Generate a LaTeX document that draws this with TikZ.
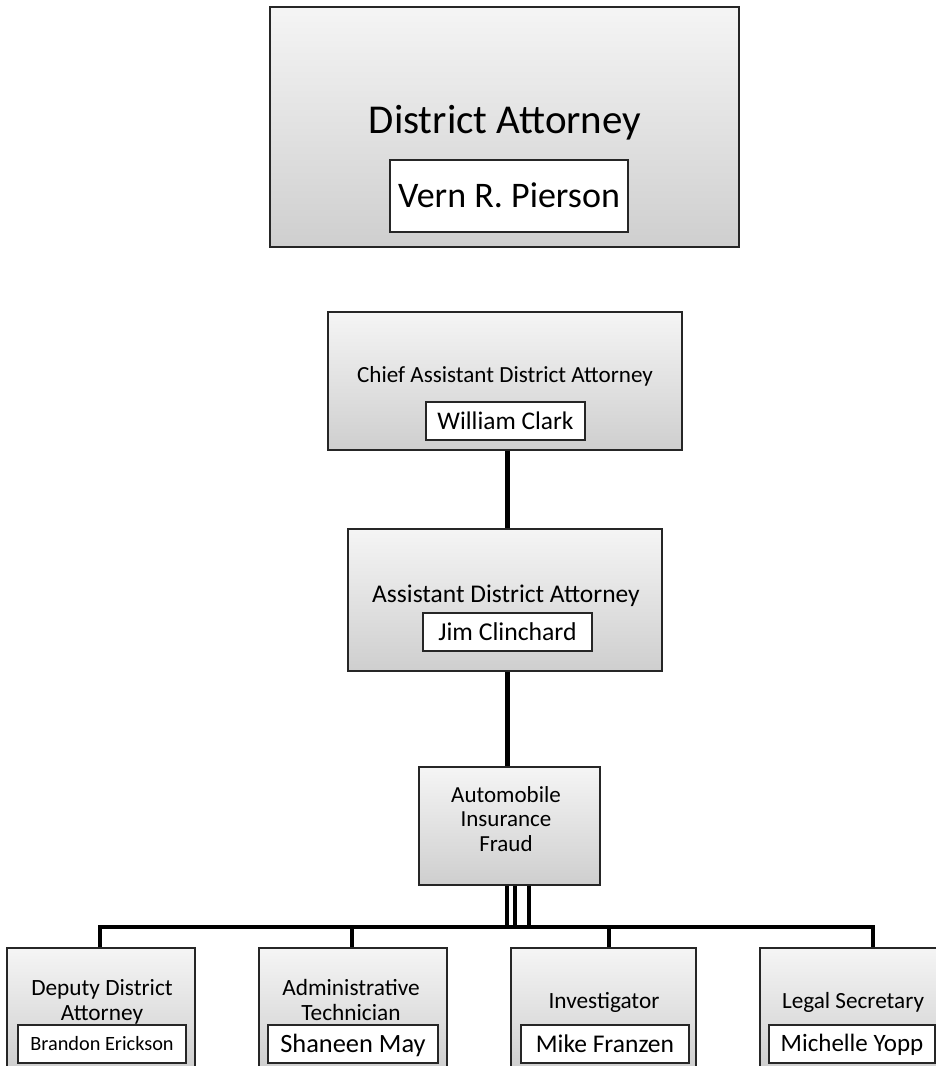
\documentclass[tikz,border=0pt]{standalone}
\usepackage{fontspec}
\setmainfont{Carlito}
\usetikzlibrary{positioning}
\begin{document}
\begin{tikzpicture}[x=1pt,y=-1pt,
  office/.style={draw=black!85,line width=1.6pt,top color=gray!8,bottom color=gray!38,inner sep=0pt},
  person/.style={draw=black!85,line width=1.3pt,fill=white,inner sep=0pt,minimum height=38pt,text depth=0pt},
  role/.style={anchor=base,align=center,inner sep=0pt},
  link/.style={line width=4.5pt,line join=miter}]
\path[use as bounding box,clip] (0,0) rectangle (936,1066);
\node[office,minimum width=469pt,minimum height=240pt] (da) at (504.5,127) {};
\node[role,font=\fontsize{41}{44}\selectfont] (daT) at (505,133) {District Attorney};
\node[person,minimum width=238pt,minimum height=72pt,text height=22.8pt,font=\fontsize{36}{40}\selectfont] (vern) at (509,196) {Vern R. Pierson};
\node[office,minimum width=354pt,minimum height=138pt] (chief) at (505,381) {};
\node[role,font=\fontsize{23.1}{26}\selectfont] (chiefT) at (505,382) {Chief Assistant District Attorney};
\node[person,minimum width=159pt,text height=16pt,font=\fontsize{25.4}{28}\selectfont] (clark) at (505.5,421) {William Clark};
\node[office,minimum width=314pt,minimum height=142pt] (ada) at (505,600) {};
\node[role,font=\fontsize{25.5}{28}\selectfont] (adaT) at (506,602) {Assistant District Attorney};
\node[person,minimum width=169pt,text height=16.2pt,font=\fontsize{25.7}{28}\selectfont] (clinch) at (507.5,632) {Jim Clinchard};
\node[office,minimum width=181pt,minimum height=118pt] (fraud) at (509.5,826) {};
\node[role,font=\fontsize{23}{24.5}\selectfont] (fraudT) at (506,851) {Automobile\\Insurance\\Fraud};
\foreach \n/\x/\w in {dda/101/188,tech/353/188,inv/603.5/185,sec/853/186}
  \node[office,minimum width=\w pt,minimum height=122pt] (\n) at (\x,1009) {};
\node[role,font=\fontsize{23.3}{25}\selectfont] (ddaT) at (102,1020) {Deputy District\\Attorney};
\node[role,font=\fontsize{23.3}{25}\selectfont] (techT) at (351,1020) {Administrative\\Technician};
\node[role,font=\fontsize{23.3}{25}\selectfont] (invT) at (604,1008) {Investigator};
\node[role,font=\fontsize{23.2}{25}\selectfont] (secT) at (853,1008) {Legal Secretary};
\node[person,minimum width=168pt,text height=12.8pt,font=\fontsize{20.3}{22}\selectfont] (brandon) at (102,1044) {Brandon Erickson};
\node[person,minimum width=170pt,text height=16.7pt,font=\fontsize{26.4}{28}\selectfont] (shaneen) at (353,1044) {Shaneen May};
\node[person,minimum width=168pt,text height=16.1pt,font=\fontsize{25.5}{28}\selectfont] (mike) at (605,1044) {Mike Franzen};
\node[person,minimum width=166pt,text height=15.8pt,font=\fontsize{25}{28}\selectfont] (michelle) at (852,1044) {Michelle Yopp};
\draw[link] (chief.south -| clinch) -- (ada.north -| clinch);
\draw[link] (ada.south -| clinch) -- (fraud.north -| clinch);
\coordinate (j1) at (100,927);
\coordinate (j2) at (352,927);
\coordinate (j3) at (609,927);
\coordinate (j4) at (873,927);
\draw[link] (j1 |- dda.north) -- (j1) -- (j4) -- (j4 |- sec.north);
\draw[link] (j2) -- (j2 |- tech.north);
\draw[link] (j3) -- (j3 |- inv.north);
\foreach \dx in {-2.5,5.5,19}
  \draw[line width=4pt] ([xshift=\dx pt]fraud.south) -- ([xshift=\dx pt]fraud.south |- j1);
\end{tikzpicture}
\end{document}
